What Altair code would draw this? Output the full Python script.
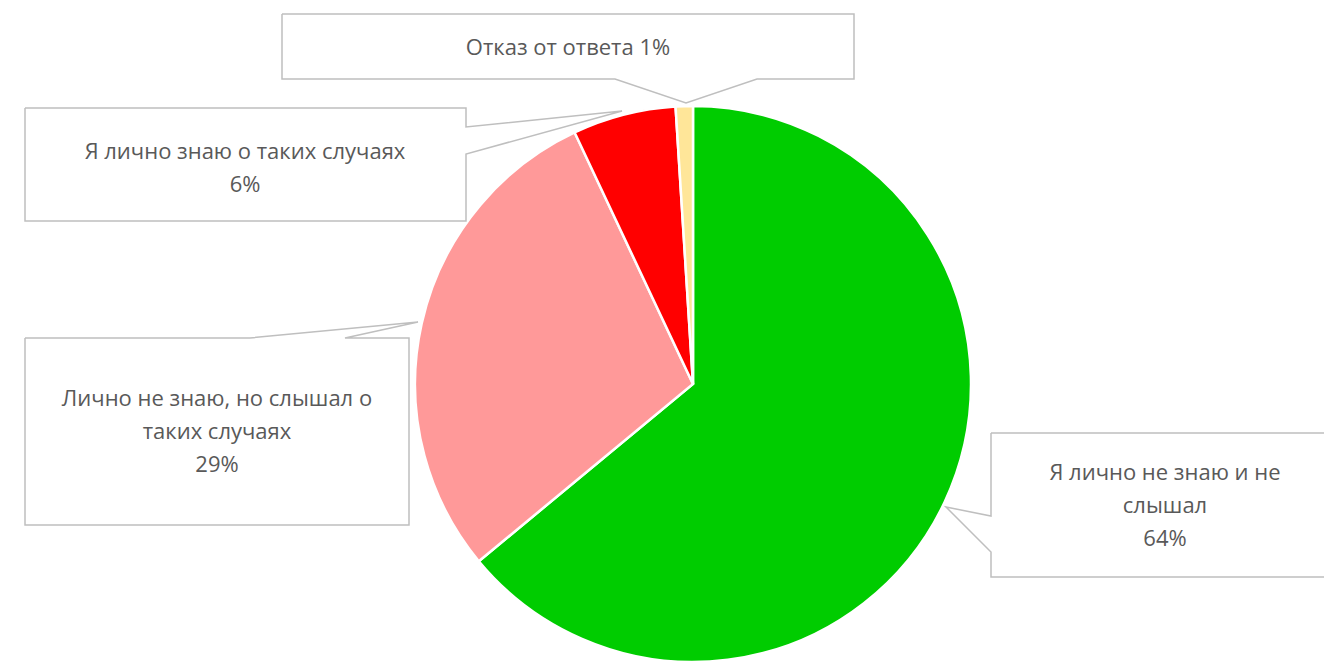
import altair as alt
import pandas as pd

# ---- data ----
categories = [
    "Я лично не знаю и не слышал",
    "Лично не знаю, но слышал о таких случаях",
    "Я лично знаю о таких случаях",
    "Отказ от ответа",
]
values = [64, 29, 6, 1]
colors = ["#00CC00", "#FF9999", "#FF0000", "#FFE699"]

# wrapped label text (last line of each gets the percentage)
label_text = [
    ["Я лично не знаю и не", "слышал"],
    ["Лично не знаю, но слышал о", "таких случаях"],
    ["Я лично знаю о таких случаях"],
    ["Отказ от ответа"],
]
pct_inline = [False, False, False, True]

# ---- layout (reference pixel coordinates) ----
W, H = 1316, 654
OFF = 8
CX, CY, R = 693, 384, 278
LINE_H = 33

label_anchor = [  # center x, first line y
    (1165, 473),
    (217, 399),
    (245, 152),
    (568, 48),
]

callouts = [
    [(991, 433), (1345, 433), (1345, 577), (991, 577), (991, 552), (946, 507), (991, 516), (991, 433)],
    [(25, 338), (250, 338), (418, 322), (345, 338), (409, 338), (409, 525), (25, 525), (25, 338)],
    [(25, 108), (466, 108), (466, 127), (622, 111), (466, 154), (466, 221), (25, 221), (25, 108)],
    [(282, 14), (854, 14), (854, 79), (757, 79), (686, 103), (615, 79), (282, 79), (282, 14)],
]

xs = alt.Scale(domain=[OFF, OFF + W], nice=False, zero=False)
ys = alt.Scale(domain=[OFF, OFF + H], nice=False, zero=False, reverse=True)

# pie
pie_df = pd.DataFrame({"category": categories, "value": values, "ord": list(range(len(values)))})
pie = alt.Chart(pie_df).mark_arc(radius=R, stroke="white", strokeWidth=2.5).encode(
    theta=alt.Theta("value:Q", stack=True),
    color=alt.Color("category:N", scale=alt.Scale(domain=categories, range=colors), legend=None),
    order=alt.Order("ord:Q"),
    x=alt.value(CX - OFF),
    y=alt.value(CY - OFF),
)

# callout outlines
rows = []
for ci, pts in enumerate(callouts):
    for i, (px, py) in enumerate(pts):
        rows.append({"callout": ci, "idx": i, "x": px, "y": py})
line_df = pd.DataFrame(rows)
lines = alt.Chart(line_df).mark_line(stroke="#BFBFBF", strokeWidth=1.5, clip=True).encode(
    x=alt.X("x:Q", scale=xs, axis=None),
    y=alt.Y("y:Q", scale=ys, axis=None),
    detail="callout:N",
    order="idx:Q",
)

# labels
trows = []
for k, (lines_k, v) in enumerate(zip(label_text, values)):
    lk = list(lines_k)
    if pct_inline[k]:
        lk[-1] = f"{lk[-1]} {v}%"
    else:
        lk.append(f"{v}%")
    ax, ay = label_anchor[k]
    for j, t in enumerate(lk):
        trows.append({"t": t, "x": ax, "y": ay + j * LINE_H})
text_df = pd.DataFrame(trows)
text = alt.Chart(text_df).mark_text(
    font="Open Sans", fontSize=22, color="#595959", align="center", baseline="middle"
).encode(
    x=alt.X("x:Q", scale=xs, axis=None),
    y=alt.Y("y:Q", scale=ys, axis=None),
    text="t:N",
)

chart = alt.layer(pie, lines, text).properties(
    width=W, height=H, padding=0, autosize="none", background="white"
).configure_view(stroke=None)

chart.save("out.html", embed_options={"renderer": "svg", "actions": False})
